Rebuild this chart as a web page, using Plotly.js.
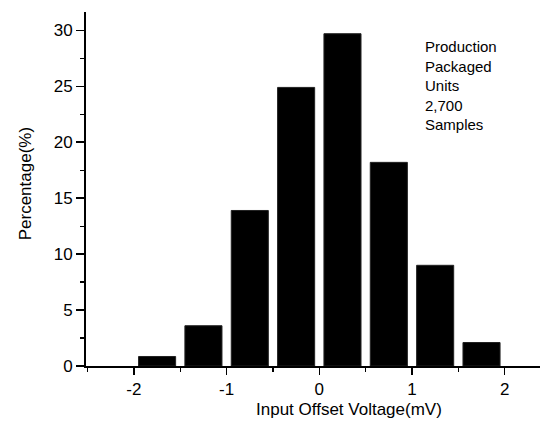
<!DOCTYPE html>
<html>
<head>
<meta charset="utf-8">
<script src="https://cdn.plot.ly/plotly-3.0.1.min.js"></script>
<style>html,body{margin:0;padding:0;background:#fff;}#chart{width:546px;height:423px;}</style>
</head>
<body>
<div id="chart"></div>
<script>
const binCenters = [-1.75, -1.25, -0.75, -0.25, 0.25, 0.75, 1.25, 1.75];
const percentages = [0.85, 3.6, 13.9, 24.9, 29.7, 18.2, 9.0, 2.1];
const xTickVals = [-2, -1, 0, 1, 2];
const xTickText = ['-2', '-1', '0', '1', '2'];
const yTickVals = [0, 5, 10, 15, 20, 25, 30];
const noteLines = ['Production', 'Packaged', 'Units', '2,700', 'Samples'];
const xTitle = 'Input Offset Voltage(mV)';
const yTitle = 'Percentage(%)';

const font = 'Liberation Sans, Arial, sans-serif';

const trace = {
  type: 'bar',
  x: binCenters,
  y: percentages,
  width: 0.4,
  marker: {color: '#000000', line: {color: '#222', width: 1}},
  hoverinfo: 'none'
};

const layout = {
  width: 546, height: 423,
  margin: {l: 86, r: 6, t: 12, b: 57},
  paper_bgcolor: '#fff', plot_bgcolor: '#fff',
  showlegend: false,
  font: {family: font, color: '#000', size: 17},
  xaxis: {
    range: [-2.517, 2.381],
    tickvals: xTickVals, ticktext: xTickText,
    ticks: 'outside', ticklen: 7, tickwidth: 1.5, tickcolor: '#000',
    minor: {dtick: 0.5, ticks: 'outside', ticklen: 4, tickwidth: 1.2, tickcolor: '#000'},
    showline: true, linecolor: '#000', linewidth: 2,
    showgrid: false, zeroline: false,
    tickfont: {family: font, size: 17, color: '#000'},
    fixedrange: true
  },
  yaxis: {
    range: [0, 31.64],
    tickvals: yTickVals,
    ticks: 'outside', ticklen: 8, tickwidth: 1.5, tickcolor: '#000',
    minor: {dtick: 2.5, ticks: 'outside', ticklen: 4, tickwidth: 1.2, tickcolor: '#000'},
    showline: true, linecolor: '#000', linewidth: 2,
    showgrid: false, zeroline: false,
    tickfont: {family: font, size: 17, color: '#000'},
    fixedrange: true
  },
  annotations: [
    {
      text: noteLines.join('<br>'),
      xref: 'paper', yref: 'paper',
      x: (423 - 86) / 454, y: (365.7 - 36) / 354,
      xanchor: 'left', yanchor: 'top', align: 'left',
      showarrow: false,
      font: {family: font, size: 15, color: '#000'}
    },
    {
      text: xTitle,
      xref: 'paper', yref: 'paper',
      x: (349 - 86) / 454, y: (365.7 - 409) / 354,
      xanchor: 'center', yanchor: 'middle',
      showarrow: false,
      font: {family: font, size: 17, color: '#000'}
    },
    {
      text: yTitle,
      xref: 'paper', yref: 'paper',
      x: (25 - 86) / 454, y: (365.7 - 184) / 354,
      xanchor: 'center', yanchor: 'middle',
      textangle: -90,
      showarrow: false,
      font: {family: font, size: 17, color: '#000'}
    }
  ]
};

Plotly.newPlot('chart', [trace], layout, {displayModeBar: false, staticPlot: true});
</script>
</body>
</html>
